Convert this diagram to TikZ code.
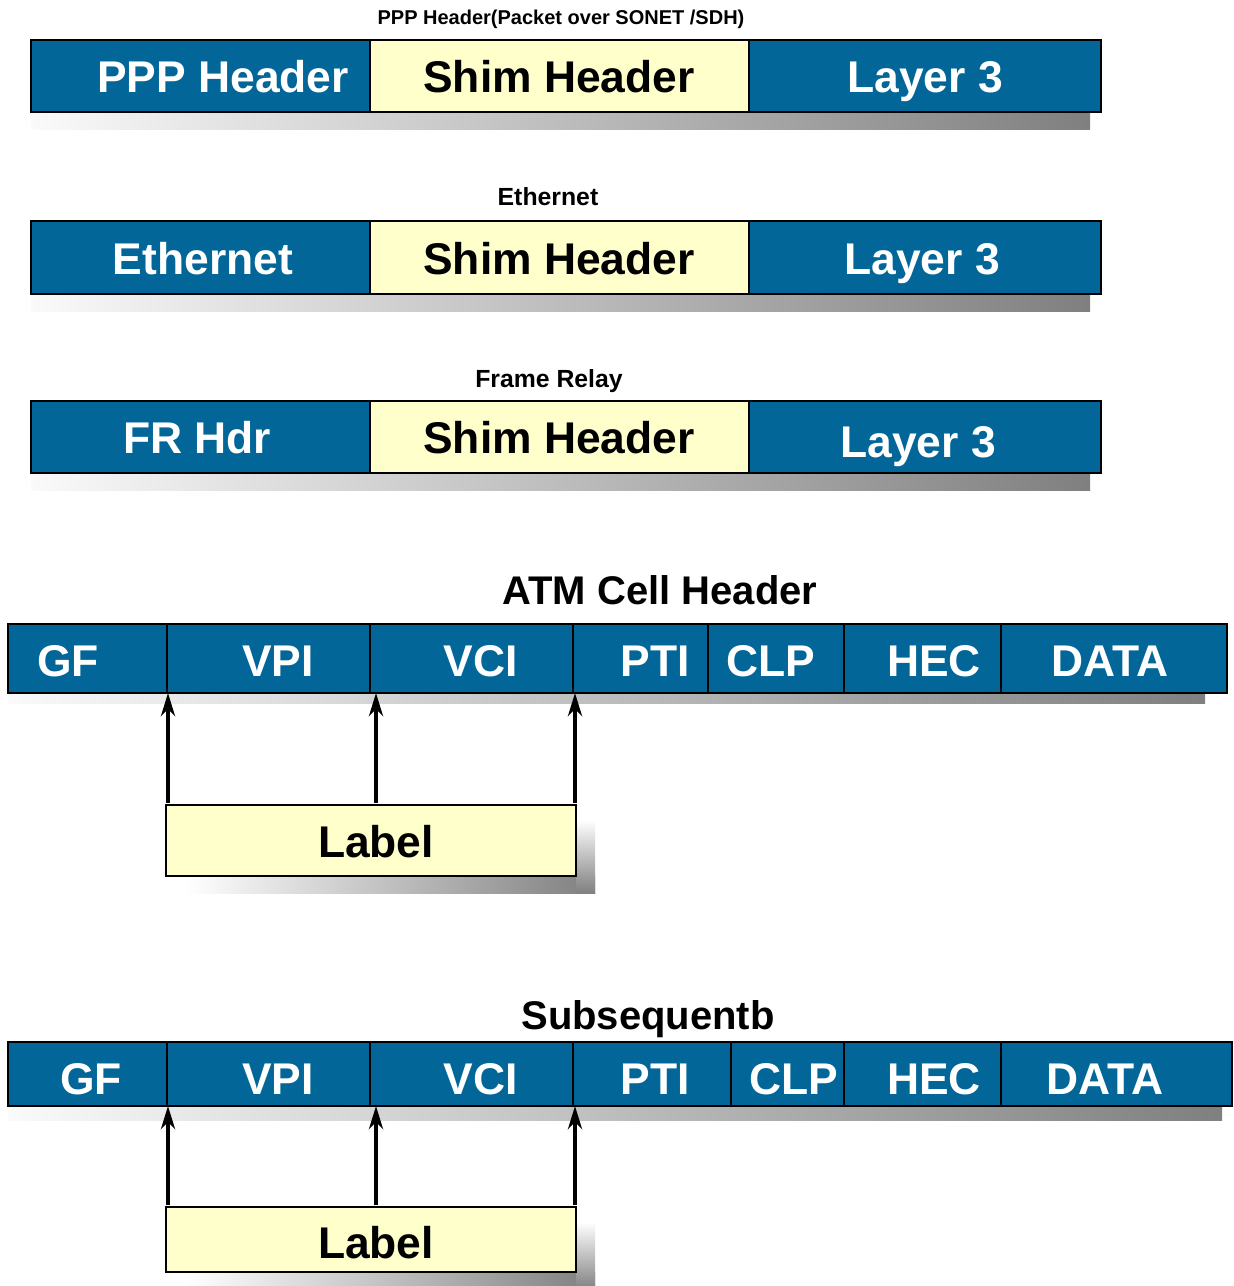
\documentclass[tikz,border=0pt]{standalone}
\usepackage{fontspec}
\setmainfont{Liberation Sans}
\usetikzlibrary{arrows.meta}
\definecolor{cellblue}{RGB}{3,102,153}
\definecolor{cellyellow}{RGB}{255,255,204}
\newcommand\mycell[6]{\node[#6, minimum width={(#4-#2)*0.5pt}, minimum height={(#5-#3)*0.5pt}] (#1) at ({(#2+#4)/2},{(#3+#5)/2}) {};}
\tikzset{
  bluecell/.style={draw=black, line width=1.3pt, fill=cellblue, inner sep=0pt},
  yellowcell/.style={draw=black, line width=1.3pt, fill=cellyellow, inner sep=0pt},
  wtxt/.style={anchor=base, inner sep=0pt, text=white, font=\fontsize{22.2pt}{26pt}\selectfont\bfseries},
  btxt/.style={anchor=base, inner sep=0pt, text=black, font=\fontsize{22.2pt}{26pt}\selectfont\bfseries},
  smalltitle/.style={anchor=base, inner sep=0pt, font=\fontsize{10pt}{12pt}\selectfont\bfseries},
  midtitle/.style={anchor=base, inner sep=0pt, font=\fontsize{12.4pt}{15pt}\selectfont\bfseries},
  bigtitle/.style={anchor=base, inner sep=0pt, font=\fontsize{20pt}{24pt}\selectfont\bfseries},
  rowshadow/.style={left color=gray!4, right color=gray},
  sideshadow/.style={top color=white, bottom color=gray},
  arr/.style={line width=2.2pt, -{Stealth[length=11.5pt,width=7pt,inset=3.5pt]}}
}
\begin{document}
\begin{tikzpicture}[x=0.5pt,y=-0.5pt]
\useasboundingbox (0,0) rectangle (1233,1286);
% shadows
\shade[rowshadow] (31,112) rectangle (1090,129);
\shade[rowshadow] (31,294) rectangle (1090,311);
\shade[rowshadow] (31,473) rectangle (1090,490);
\shade[rowshadow] (8,693) rectangle (1205,703);
\shade[rowshadow] (8,1106) rectangle (1222,1120);
\shade[left color=white, right color=gray] (185,876) rectangle (595,893);
\shade[sideshadow] (576,820) rectangle (595,893);
\shade[left color=white, right color=gray] (185,1272) rectangle (595,1290);
\shade[sideshadow] (576,1222) rectangle (595,1290);
% row 1
\node[smalltitle] (t1) at (561,24) {PPP Header(Packet over SONET /SDH)};
\mycell{a1}{31}{40}{370}{112}{bluecell}
\mycell{a2}{370}{40}{749}{112}{yellowcell}
\mycell{a3}{749}{40}{1101}{112}{bluecell}
\node[wtxt] (a1t) at (223,92) {PPP Header};
\node[btxt] (a2t) at (559,92) {Shim Header};
\node[wtxt] (a3t) at (925,92) {Layer 3};
% row 2
\node[midtitle] (t2) at (548,205) {Ethernet};
\mycell{b1}{31}{221}{370}{294}{bluecell}
\mycell{b2}{370}{221}{749}{294}{yellowcell}
\mycell{b3}{749}{221}{1101}{294}{bluecell}
\node[wtxt] (b1t) at (203,274) {Ethernet};
\node[btxt] (b2t) at (559,274) {Shim Header};
\node[wtxt] (b3t) at (922,274) {Layer 3};
% row 3
\node[midtitle] (t3) at (549,387) {Frame Relay};
\mycell{c1}{31}{401}{370}{473}{bluecell}
\mycell{c2}{370}{401}{749}{473}{yellowcell}
\mycell{c3}{749}{401}{1101}{473}{bluecell}
\node[wtxt] (c1t) at (197,453) {FR Hdr};
\node[btxt] (c2t) at (559,453) {Shim Header};
\node[wtxt] (c3t) at (918,457) {Layer 3};
% row 4 ATM
\node[bigtitle] (t4) at (660,604) {ATM Cell Header};
\mycell{d1}{8}{624}{167}{693}{bluecell}
\mycell{d2}{167}{624}{370}{693}{bluecell}
\mycell{d3}{370}{624}{573}{693}{bluecell}
\mycell{d4}{573}{624}{708}{693}{bluecell}
\mycell{d5}{708}{624}{844}{693}{bluecell}
\mycell{d6}{844}{624}{1001}{693}{bluecell}
\mycell{d7}{1001}{624}{1227}{693}{bluecell}
\node[wtxt] (d1t) at (68,676) {GF};
\node[wtxt] (d2t) at (278,676) {VPI};
\node[wtxt] (d3t) at (481,676) {VCI};
\node[wtxt] (d4t) at (655,676) {PTI};
\node[wtxt] (d5t) at (771,676) {CLP};
\node[wtxt] (d6t) at (934,676) {HEC};
\node[wtxt] (d7t) at (1110,676) {DATA};
\mycell{lab1}{166}{805}{576}{876}{yellowcell}
\node[btxt] (lab1t) at (376,857) {Label};
\coordinate (p1) at (168,693); \coordinate (q1) at (168,803);
\coordinate (p2) at (376,693); \coordinate (q2) at (376,803);
\coordinate (p3) at (575,693); \coordinate (q3) at (575,803);
\draw[arr] (q1) -- (p1);
\draw[arr] (q2) -- (p2);
\draw[arr] (q3) -- (p3);
% row 5
\node[bigtitle] (t5) at (648,1029) {Subsequentb};
\mycell{e1}{8}{1042}{167}{1106}{bluecell}
\mycell{e2}{167}{1042}{370}{1106}{bluecell}
\mycell{e3}{370}{1042}{573}{1106}{bluecell}
\mycell{e4}{573}{1042}{731}{1106}{bluecell}
\mycell{e5}{731}{1042}{844}{1106}{bluecell}
\mycell{e6}{844}{1042}{1001}{1106}{bluecell}
\mycell{e7}{1001}{1042}{1232}{1106}{bluecell}
\node[wtxt] (e1t) at (91,1094) {GF};
\node[wtxt] (e2t) at (278,1094) {VPI};
\node[wtxt] (e3t) at (481,1094) {VCI};
\node[wtxt] (e4t) at (655,1094) {PTI};
\node[wtxt] (e5t) at (794,1094) {CLP};
\node[wtxt] (e6t) at (934,1094) {HEC};
\node[wtxt] (e7t) at (1105,1094) {DATA};
\mycell{lab2}{166}{1207}{576}{1272}{yellowcell}
\node[btxt] (lab2t) at (376,1258) {Label};
\coordinate (r1) at (168,1106); \coordinate (s1) at (168,1205);
\coordinate (r2) at (376,1106); \coordinate (s2) at (376,1205);
\coordinate (r3) at (575,1106); \coordinate (s3) at (575,1205);
\draw[arr] (s1) -- (r1);
\draw[arr] (s2) -- (r2);
\draw[arr] (s3) -- (r3);
\end{tikzpicture}
\end{document}
